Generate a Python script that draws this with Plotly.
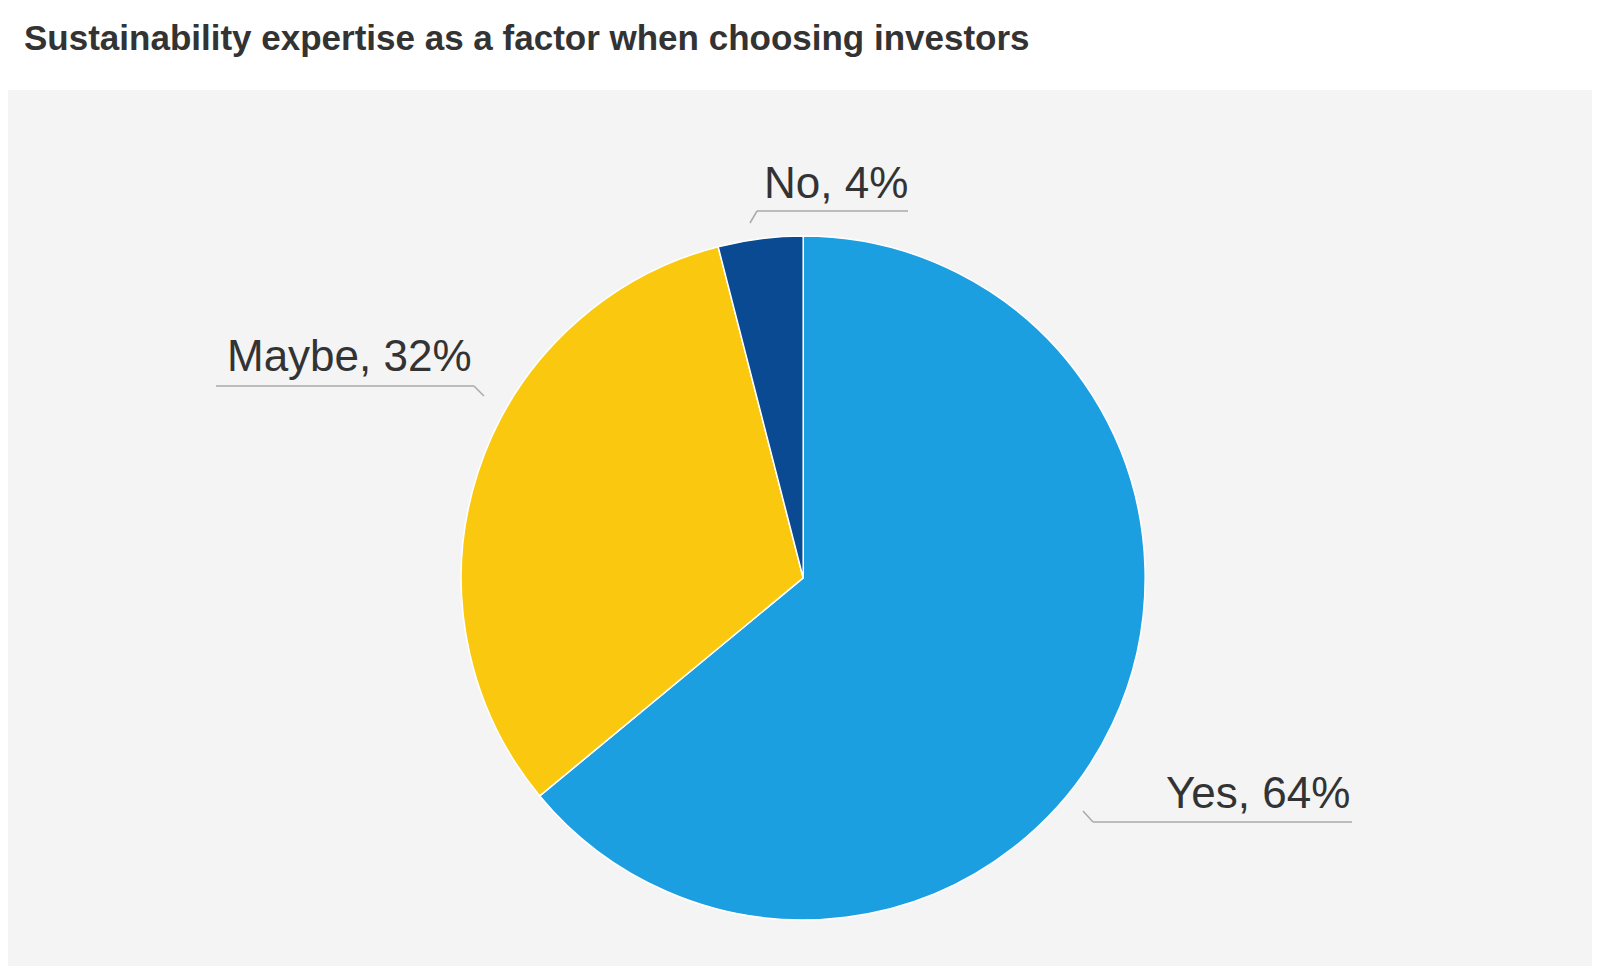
import plotly.graph_objects as go

labels = ["Yes", "Maybe", "No"]
values = [64, 32, 4]
colors = ["#1c9fe0", "#fac90f", "#0a4a92"]

W, H = 1600, 966
OFF = 8  # page body margin


def px(x, y):
    return (x - OFF) / W, 1 - (y - OFF) / H


fig = go.Figure(go.Pie(
    labels=labels, values=values, sort=False, direction="clockwise", rotation=0,
    marker=dict(colors=colors, line=dict(color="white", width=1.5)),
    textinfo="none", hoverinfo="label+percent", showlegend=False,
    domain=dict(x=[0.283, 0.711], y=[0.056, 0.764]),
))

# label positions (text anchor, underline, leader end) in pixels
label_pos = {
    "No": ((910, 182), (757, 908, 211), (750, 223)),
    "Maybe": ((474, 355), (216, 474, 386), (484, 396)),
    "Yes": ((1352, 792), (1093, 1352, 822), (1083, 811)),
}

shapes = [dict(type="rect", xref="paper", yref="paper", x0=-0.01, x1=1.01, y0=-0.01, y1=1 - 82 / H,
               fillcolor="#f4f4f4", line_width=0, layer="below")]
annotations = [dict(text="<b>Sustainability expertise as a factor when choosing investors</b>",
                    x=px(22, 0)[0], y=1 - 30 / H, xref="paper", yref="paper",
                    xanchor="left", yanchor="middle", showarrow=False,
                    font=dict(size=35, color="#333333", family="Liberation Sans"))]

for lab, val in zip(labels, values):
    (tx, ty), (ux0, ux1, uy), (lx, ly) = label_pos[lab]
    x, y = px(tx, ty)
    annotations.append(dict(text=f"{lab}, {val}%", x=x, y=y, xref="paper", yref="paper",
                            xanchor="right", yanchor="middle", showarrow=False,
                            font=dict(size=44, color="#333333", family="Liberation Sans")))
    a0, b0 = px(ux0, uy)
    a1, b1 = px(ux1, uy)
    shapes.append(dict(type="line", xref="paper", yref="paper", x0=a0, x1=a1, y0=b0, y1=b0,
                       line=dict(color="#aaaaaa", width=1.5)))
    ex = ux0 if lab != "Maybe" else ux1
    c0, d0 = px(ex, uy)
    c1, d1 = px(lx, ly)
    shapes.append(dict(type="line", xref="paper", yref="paper", x0=c0, x1=c1, y0=d0, y1=d1,
                       line=dict(color="#aaaaaa", width=1.5)))

fig.update_layout(width=W, height=H, margin=dict(l=0, r=0, t=0, b=0),
                  paper_bgcolor="white", shapes=shapes, annotations=annotations)
fig.write_html("out.html")
